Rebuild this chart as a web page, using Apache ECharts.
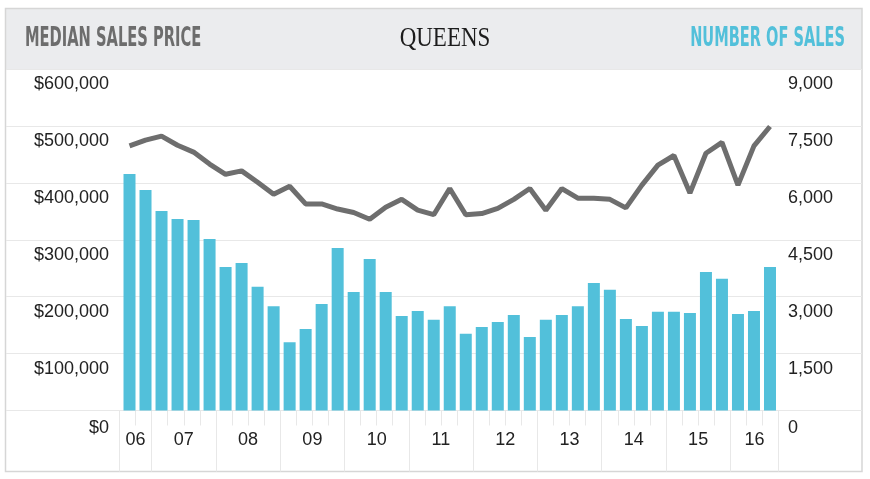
<!DOCTYPE html>
<html>
<head>
<meta charset="utf-8">
<title>Queens</title>
<script src="https://cdn.jsdelivr.net/npm/echarts@6/dist/echarts.min.js"></script>
<style>
  html, body { margin: 0; padding: 0; background: #fff; }
  #chart { width: 870px; height: 479px; }
</style>
</head>
<body>
<div id="chart"></div>
<script>
// quarters shown, 2006 Q3 .. 2016 Q3
var quarters = [
  '2006 Q3', '2006 Q4',
  '2007 Q1', '2007 Q2', '2007 Q3', '2007 Q4',
  '2008 Q1', '2008 Q2', '2008 Q3', '2008 Q4',
  '2009 Q1', '2009 Q2', '2009 Q3', '2009 Q4',
  '2010 Q1', '2010 Q2', '2010 Q3', '2010 Q4',
  '2011 Q1', '2011 Q2', '2011 Q3', '2011 Q4',
  '2012 Q1', '2012 Q2', '2012 Q3', '2012 Q4',
  '2013 Q1', '2013 Q2', '2013 Q3', '2013 Q4',
  '2014 Q1', '2014 Q2', '2014 Q3', '2014 Q4',
  '2015 Q1', '2015 Q2', '2015 Q3', '2015 Q4',
  '2016 Q1', '2016 Q2', '2016 Q3'
];
// number of sales (right axis)
var salesCount = [
  6230, 5810,
  5260, 5050, 5020, 4520,
  3780, 3890, 3260, 2750,
  1800, 2150, 2810, 4280,
  3120, 3990, 3120, 2490,
  2620, 2390, 2750, 2020,
  2200, 2330, 2520, 1940,
  2390, 2520, 2750, 3360,
  3180, 2410, 2230, 2600,
  2600, 2570, 3650, 3470,
  2540, 2620, 3780
];
// median sales price (left axis)
var medianPrice = [
  465000, 475000,
  482000, 466000, 454000, 433000,
  415000, 421000, 401000, 380000,
  394000, 363000, 363000, 354000,
  348000, 336000, 357000, 371000,
  352000, 344000, 390000, 344000,
  346000, 355000, 371000, 390000,
  352000, 390000, 373000, 373000,
  371000, 356000, 396000, 431000,
  448000, 382000, 452000, 471000,
  396000, 465000, 499000
];
var yearLabels = ['06', '07', '08', '09', '10', '11', '12', '13', '14', '15', '16'];
var priceTicks = [0, 100000, 200000, 300000, 400000, 500000, 600000];
var salesTicks = [0, 1500, 3000, 4500, 6000, 7500, 9000];

var cyan = '#52c0da';
var grey = '#6e6e6e';
var lineGrey = '#e8e8e8';
var axisFont = '"Liberation Sans", Arial, sans-serif';
var headFont = 'bold 20px "Liberation Sans Narrow", "DejaVu Sans Condensed", sans-serif';

// half-quarter slots, used for the year labels and the year dividers
var halfSlots = [];
for (var i = 0; i <= quarters.length * 2; i++) halfSlots.push('');
var yearBounds = {};
yearLabels.forEach(function (y) {
  var first = -1, last = -1;
  quarters.forEach(function (q, k) {
    if (q.slice(2, 4) === y) { if (first < 0) first = k; last = k; }
  });
  halfSlots[first + last + 1] = y;
  yearBounds[first * 2] = true;
});
yearBounds[quarters.length * 2] = true;

function money(v) {
  return '$' + v.toLocaleString('en-US');
}

var myChart = echarts.init(document.getElementById('chart'));

var option = {
  animation: false,
  backgroundColor: '#fff',
  graphic: [
    {
      type: 'rect', silent: true, z: 0,
      shape: { x: 5, y: 8, width: 857, height: 61 },
      style: { fill: '#ebecee' }
    },
    {
      type: 'rect', silent: true, z: 0,
      shape: { x: 5.5, y: 8.5, width: 856.5, height: 463 },
      style: { fill: 'none', stroke: '#d6d6d6', lineWidth: 1.5 }
    },
    {
      type: 'text', silent: true, x: 25, y: 39, scaleX: 0.815, scaleY: 1.33,
      style: {
        text: 'MEDIAN SALES PRICE', fill: '#6d6d6d', font: headFont,
        align: 'left', verticalAlign: 'middle'
      }
    },
    {
      type: 'text', silent: true, x: 445, y: 38.5, scaleY: 1.18,
      style: {
        text: 'QUEENS', fill: '#1c1c1c',
        font: '23px "Liberation Serif", "DejaVu Serif", serif',
        align: 'center', verticalAlign: 'middle'
      }
    },
    {
      type: 'text', silent: true, x: 845, y: 39, scaleX: 0.81, scaleY: 1.33,
      style: {
        text: 'NUMBER OF SALES', fill: cyan, font: headFont,
        align: 'right', verticalAlign: 'middle'
      }
    }
  ],
  grid: [
    // bars and line
    { left: 121.5, top: 69, width: 656.5, height: 341.5 },
    // ticks and year labels
    { left: 119.5, top: 69, width: 659, height: 341.5 },
    // full width gridlines
    { left: 6, top: 69, width: 856, height: 341.5 }
  ],
  xAxis: [
    {
      gridIndex: 0, type: 'category', data: quarters, boundaryGap: true,
      axisLine: { show: false }, axisTick: { show: false }, axisLabel: { show: false }
    },
    {
      gridIndex: 1, type: 'category', data: quarters, boundaryGap: true,
      position: 'bottom',
      axisLine: { show: false },
      axisTick: { show: true, interval: 0, length: 15, lineStyle: { color: lineGrey, width: 1 } },
      axisLabel: { show: false }
    },
    {
      gridIndex: 1, type: 'category', data: halfSlots, boundaryGap: false,
      position: 'bottom',
      axisLine: { show: false },
      axisTick: {
        show: true, length: 61,
        interval: function (idx) { return !!yearBounds[idx]; },
        lineStyle: { color: lineGrey, width: 1 }
      },
      axisLabel: {
        show: true, interval: 0, margin: 21,
        color: '#222', fontSize: 18, fontFamily: axisFont,
        verticalAlign: 'top', lineHeight: 18
      }
    },
    { gridIndex: 2, type: 'value', show: false }
  ],
  yAxis: [
    {
      gridIndex: 0, type: 'value', position: 'left',
      min: priceTicks[0], max: priceTicks[priceTicks.length - 1], interval: 100000,
      axisLine: { show: false }, axisTick: { show: false }, splitLine: { show: false },
      axisLabel: {
        margin: 12.5, color: '#222', fontSize: 18, fontFamily: axisFont,
        verticalAlign: 'top', padding: [6, 0, 0, 0],
        formatter: function (v) { return v === 0 ? '{z|' + money(v) + '}' : '{n|' + money(v) + '}'; },
        rich: { n: { lineHeight: 18 }, z: { lineHeight: 24 } }
      }
    },
    {
      gridIndex: 0, type: 'value', position: 'right',
      min: salesTicks[0], max: salesTicks[salesTicks.length - 1], interval: 1500,
      axisLine: { show: false }, axisTick: { show: false }, splitLine: { show: false },
      axisLabel: {
        margin: 10, color: '#222', fontSize: 18, fontFamily: axisFont,
        verticalAlign: 'top', padding: [6, 0, 0, 0],
        formatter: function (v) {
          var s = v.toLocaleString('en-US');
          return v === 0 ? '{z|' + s + '}' : '{n|' + s + '}';
        },
        rich: { n: { lineHeight: 18 }, z: { lineHeight: 24 } }
      }
    },
    {
      gridIndex: 1, type: 'value', show: false, min: 0, max: 1
    },
    {
      gridIndex: 2, type: 'value',
      min: priceTicks[0], max: priceTicks[priceTicks.length - 1], interval: 100000,
      axisLine: { show: false }, axisTick: { show: false }, axisLabel: { show: false },
      splitLine: { show: true, lineStyle: { color: lineGrey, width: 1 } }
    }
  ],
  series: [
    {
      name: 'Number of sales', type: 'bar',
      xAxisIndex: 0, yAxisIndex: 1,
      data: salesCount, barWidth: 12,
      itemStyle: { color: cyan },
      z: 2
    },
    {
      name: 'Median sales price', type: 'line',
      xAxisIndex: 0, yAxisIndex: 0,
      data: medianPrice, showSymbol: false, symbol: 'none',
      lineStyle: { color: grey, width: 5 },
      z: 3
    }
  ]
};

myChart.setOption(option);
</script>
</body>
</html>
